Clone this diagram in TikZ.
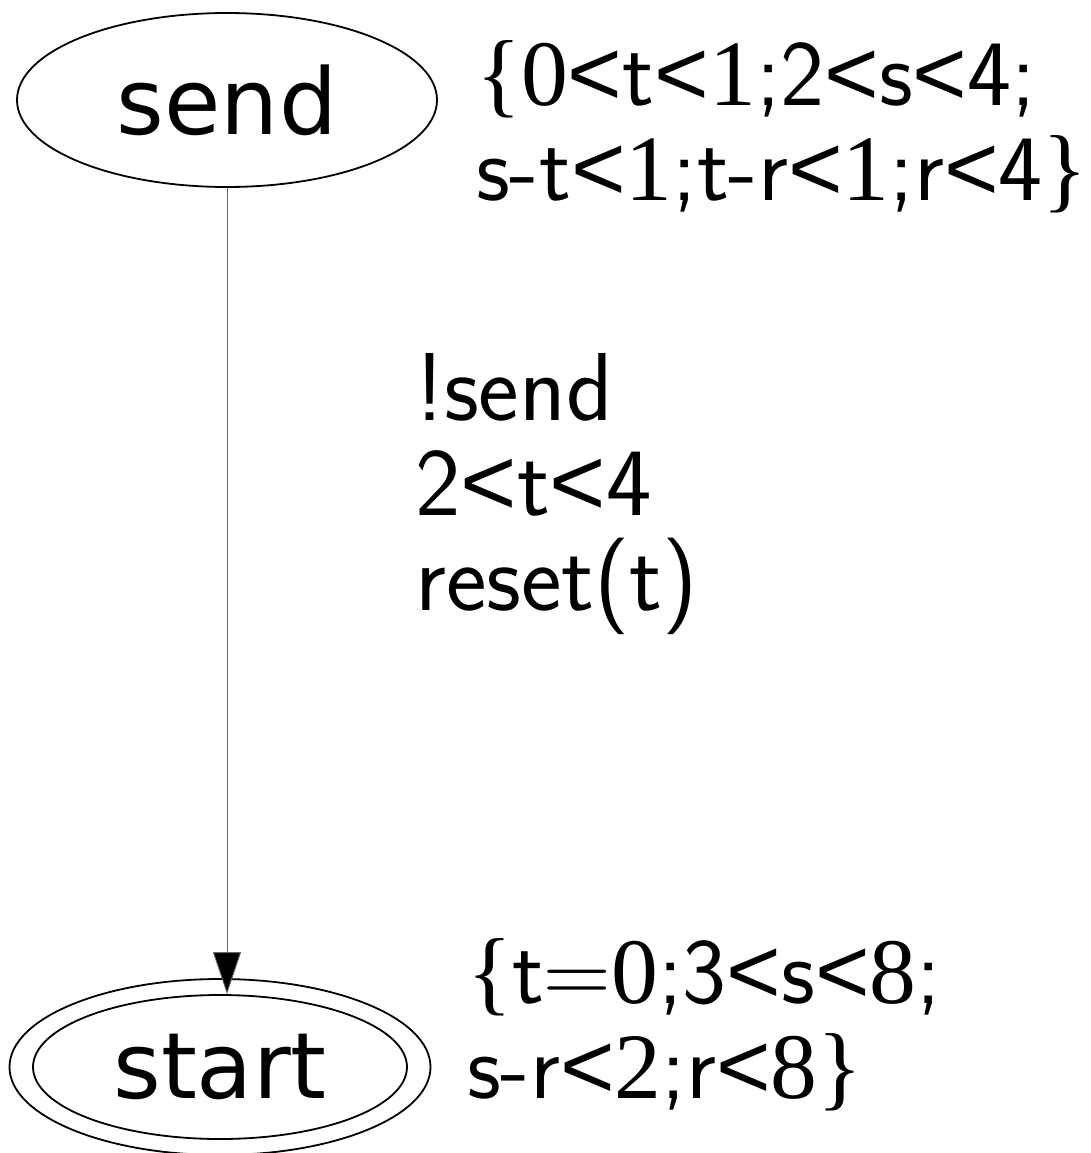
\documentclass[tikz,border=0pt]{standalone}
\usepackage{fontspec}
\newfontfamily\dvsans{DejaVu Sans}
\newfontfamily\lsans{Liberation Sans}
\newfontfamily\lserif{Liberation Serif}
\usetikzlibrary{shapes.geometric,arrows.meta}
\newcommand\srf[1]{{\lserif #1}}
\newcommand\lt{{\lsans<}}
\begin{document}
\begin{tikzpicture}[x=1bp,y=-1bp,
  state/.style={draw,ellipse,line width=1.8bp,minimum width=420bp,minimum height=174bp,inner sep=0pt,font=\dvsans\fontsize{92}{92}\selectfont},
  lbl/.style={anchor=base west,align=left,inner sep=0pt,font=\sffamily\fontsize{94}{95}\selectfont},
  edge/.style={draw=black!60,line width=0.9bp,-{Triangle[length=42bp,width=28bp,fill=black]}}]
\useasboundingbox (0,0) rectangle (1091,1153);
\node[state] (send) at (227,100) {send};
\node[state,minimum width=374bp,minimum height=144bp] (start) at (220,1067) {start};
\node[draw,ellipse,line width=1.8bp,minimum width=421bp,minimum height=176bp,inner sep=0pt] (startouter) at (220,1067) {};
\draw[edge] (send.south -| 227,0) -- (start.north -| 227,0);
\node[lbl] (inv1) at (476,200) {\srf{\{0}\lt t\lt\srf{1};2\lt s\lt 4;\\s-t\lt\srf{1};t-r\lt\srf{1};r\lt 4\srf{\}}};
\node[lbl,font=\sffamily\fontsize{97}{95}\selectfont] (guard) at (415,610) {!send\\2\lt t\lt 4\\reset(t)};
\node[lbl] (inv2) at (467,1098) {\srf{\{}t{\rmfamily=}\srf{0};3\lt s\lt\srf{8};\\s-r\lt\srf{2};r\lt\srf{8\}}};
\end{tikzpicture}
\end{document}
